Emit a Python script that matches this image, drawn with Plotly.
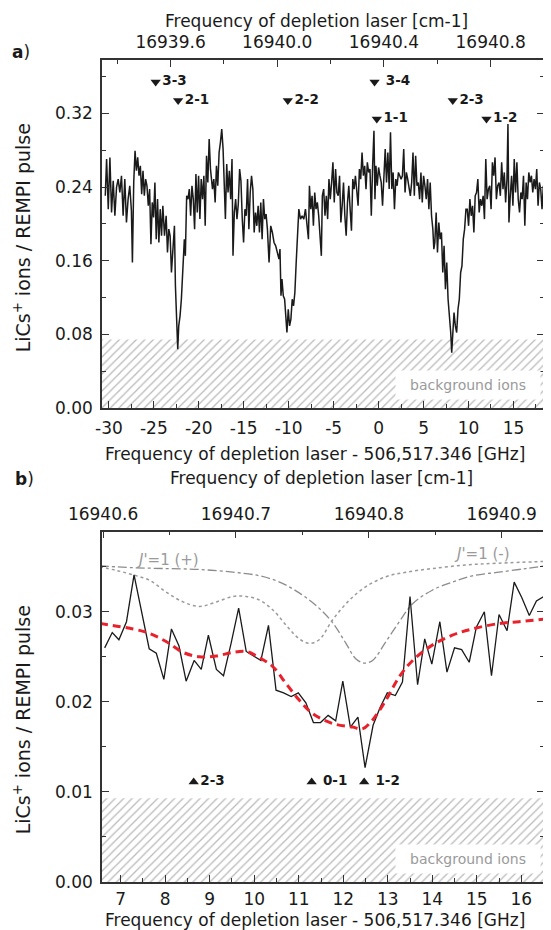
import plotly.graph_objects as go

FONT = "DejaVu Sans, Verdana, sans-serif"

# ---------------- panel a data ----------------
a_freq = [-30.405, -30.258, -30.074, -29.890, -29.706, -29.522, -29.338, -29.154, -28.970, -28.786,
          -28.602, -28.418, -28.234, -28.050, -27.866, -27.682, -27.498, -27.387, -27.240, -27.093,
          -26.945, -26.798, -26.651, -26.504, -26.356, -26.209, -26.062, -25.915, -25.768, -25.620,
          -25.473, -25.326, -25.179, -25.032, -24.884, -24.737, -24.590, -24.443, -24.295, -24.148,
          -24.001, -23.817, -23.633, -23.486, -23.339, -23.191, -23.044, -22.897, -22.713, -22.602,
          -22.455, -22.345, -22.234, -22.087, -21.940, -21.793, -21.609, -21.498, -21.351, -21.204,
          -21.057, -20.909, -20.762, -20.615, -20.468, -20.321, -20.173, -20.026, -19.879, -19.732,
          -19.585, -19.437, -19.290, -19.143, -18.996, -18.848, -18.701,
          -18.479, -18.332, -18.184, -18.037, -17.890, -17.743, -17.595, -17.448, -17.301, -17.154,
          -17.043, -16.896, -16.749, -16.602, -16.454, -16.307, -16.197, -16.050, -15.902, -15.755,
          -15.608, -15.461, -15.314, -15.166, -15.019, -14.872, -14.725, -14.577, -14.430, -14.283,
          -14.136, -13.988, -13.841, -13.694, -13.547, -13.400, -13.252, -13.105, -12.958, -12.811,
          -12.664, -12.516, -12.369, -12.185, -12.001, -11.817, -11.633, -11.449, -11.265, -11.081,
          -10.971, -10.860, -10.750, -10.603, -10.455, -10.308, -10.198, -10.050, -9.903, -9.756,
          -9.609, -9.462, -9.314, -9.167, -9.020, -8.873, -8.689, -8.505, -8.321, -8.137,
          -7.953, -7.805, -7.695, -7.548, -7.401, -7.253, -7.106, -6.959, -6.812, -6.664,
          -6.369, -6.258, -6.111, -5.964, -5.817, -5.669, -5.522, -5.375, -5.228, -5.080,
          -4.933, -4.786, -4.639, -4.492, -4.344, -4.197, -4.050, -3.903, -3.755, -3.608,
          -3.461, -3.314, -3.167, -3.019, -2.872, -2.725, -2.578, -2.430, -2.283, -2.136,
          -1.989, -1.842, -1.694, -1.547, -1.400, -1.253, -1.105, -0.958, -0.811, -0.664,
          -0.517, -0.406, -0.296, -0.149, -0.001, 0.146, 0.293, 0.440, 0.588, 0.735,
          0.882, 1.029, 1.177, 1.324, 1.471, 1.618, 1.765, 1.913, 2.060, 2.207,
          2.354, 2.502, 2.649, 2.796, 2.943, 3.090, 3.238, 3.385, 3.532, 3.679,
          3.827, 3.974, 4.121, 4.268, 4.415, 4.563, 4.710, 4.857, 5.004, 5.152,
          5.299, 5.446, 5.593, 5.740, 5.888, 6.035, 6.145,
          6.256, 6.403, 6.550, 6.698, 6.845, 6.992, 7.139, 7.286, 7.434, 7.581,
          7.728, 7.875, 8.023, 8.133, 8.243, 8.391, 8.538, 8.685, 8.832, 8.979,
          9.127, 9.274, 9.421, 9.568, 9.716, 9.863, 10.010, 10.157, 10.305, 10.452,
          10.599, 10.746, 10.893, 11.041, 11.188, 11.335, 11.482, 11.630, 11.777, 11.924,
          12.071, 12.219, 12.366, 12.513, 12.660, 12.807, 12.955, 13.102, 13.249, 13.396,
          13.544, 13.691, 13.838, 13.985, 14.132, 14.280, 14.390, 14.500, 14.648, 14.795,
          14.942, 15.089, 15.236, 15.384, 15.531, 15.678, 15.825, 15.973, 16.120, 16.267,
          16.414, 16.561, 16.709, 16.856, 17.003, 17.150, 17.298, 17.445, 17.592, 17.739,
          17.887, 18.034, 18.181, 18.328]

a_signal = [0.2305, 0.2704, 0.2160, 0.2722, 0.2124, 0.2468, 0.2088, 0.2396, 0.2486, 0.2341,
            0.2523, 0.2088, 0.2486, 0.2015, 0.2269, 0.2414, 0.2142, 0.1581, 0.2450, 0.2794,
            0.2577, 0.2722, 0.2523, 0.2631, 0.2323, 0.2577, 0.2305, 0.2486, 0.2414, 0.2197,
            0.2378, 0.1780, 0.2233, 0.2070, 0.2450, 0.1834, 0.2269, 0.1798, 0.2160, 0.1871,
            0.2197, 0.1871, 0.2088, 0.1689, 0.1943, 0.1871, 0.1472, 0.1762, 0.1979, 0.1327,
            0.0856, 0.0639, 0.0892, 0.1001, 0.1182, 0.1472, 0.1834, 0.1653, 0.2305, 0.2269,
            0.2378, 0.2088, 0.2414, 0.2269, 0.1943, 0.2541, 0.2124, 0.2523, 0.2052, 0.2486,
            0.2269, 0.2523, 0.1979, 0.2740, 0.2450, 0.2921, 0.2595,
            0.2378, 0.2486, 0.2233, 0.2631, 0.2414, 0.2776, 0.2885, 0.3030, 0.2813, 0.2305,
            0.2052, 0.2649, 0.2341, 0.2577, 0.2269, 0.2704, 0.1653, 0.2124, 0.2269, 0.2052,
            0.2215, 0.2595, 0.2468, 0.2052, 0.1798, 0.2160, 0.2088, 0.2486, 0.1943, 0.2341,
            0.2523, 0.2378, 0.1907, 0.2124, 0.1979, 0.2197, 0.1907, 0.2233, 0.1834, 0.2269,
            0.2052, 0.2106, 0.1943, 0.1581, 0.1979, 0.1907, 0.1798, 0.1762, 0.1689, 0.1617,
            0.1726, 0.1219, 0.1400, 0.1219, 0.1182, 0.1001, 0.0820, 0.1073, 0.0892, 0.0965,
            0.1182, 0.1110, 0.1255, 0.1581, 0.1834, 0.2160, 0.2052, 0.2088, 0.2052, 0.2160,
            0.1979, 0.1834, 0.2414, 0.2160, 0.2305, 0.1979, 0.2341, 0.2160, 0.2233, 0.2088,
            0.1653, 0.2305, 0.2378, 0.2088, 0.2305, 0.2052, 0.2486, 0.2269, 0.2450, 0.2668,
            0.2233, 0.2595, 0.2341, 0.2305, 0.2523, 0.2015, 0.2197, 0.2450, 0.2088, 0.1871,
            0.2233, 0.2414, 0.2160, 0.1925, 0.2486, 0.2378, 0.2523, 0.2341, 0.2197, 0.2595,
            0.2486, 0.2776, 0.2523, 0.2631, 0.2378, 0.2668, 0.2559, 0.2595, 0.2088, 0.2631,
            0.3012, 0.2269, 0.2631, 0.2414, 0.2613, 0.2523, 0.2450, 0.2197, 0.2559, 0.2813,
            0.2450, 0.2776, 0.2378, 0.2994, 0.2378, 0.2559, 0.2160, 0.2486, 0.2414, 0.2559,
            0.2523, 0.2486, 0.2523, 0.2813, 0.2341, 0.2559, 0.2486, 0.2414, 0.2305, 0.2450,
            0.2776, 0.2305, 0.2740, 0.2414, 0.2450, 0.2269, 0.2559, 0.2233, 0.2523, 0.2414,
            0.2269, 0.2486, 0.2160, 0.2450, 0.2088, 0.1943, 0.1726,
            0.1798, 0.2124, 0.1689, 0.2015, 0.1834, 0.1907, 0.1472, 0.1762, 0.1291, 0.1581,
            0.1182, 0.1037, 0.0820, 0.0602, 0.0820, 0.1037, 0.0892, 0.0820, 0.1073, 0.1182,
            0.1472, 0.1544, 0.1834, 0.1943, 0.2160, 0.2160, 0.1979, 0.2269, 0.2088, 0.2197,
            0.1907, 0.2305, 0.2341, 0.2486, 0.2124, 0.2269, 0.2197, 0.2305, 0.2052, 0.2704,
            0.2269, 0.2378, 0.2414, 0.2160, 0.2668, 0.2523, 0.2722, 0.2269, 0.2414, 0.2450,
            0.2305, 0.2668, 0.2378, 0.2559, 0.2233, 0.2486, 0.3084, 0.2015, 0.2305, 0.2523,
            0.2197, 0.2704, 0.2341, 0.2668, 0.2269, 0.2124, 0.2341, 0.2269, 0.2523, 0.1979,
            0.2450, 0.2269, 0.2559, 0.2450, 0.2523, 0.2341, 0.2486, 0.2378, 0.2595, 0.2197,
            0.2450, 0.2378, 0.2160, 0.2414]

a_lines = ["3-3", "2-1", "2-2", " 3-4", "1-1", "2-3", "1-2"]
a_lines_freq = [-24.8, -22.3, -10.1, -0.45, -0.2, 8.25, 12.0]
a_lines_level = [0.354, 0.334, 0.334, 0.354, 0.314, 0.334, 0.314]
a_background = 0.0745

a_ghz_ticks = [-30, -25, -20, -15, -10, -5, 0, 5, 10, 15]
a_ghz_labels = ["-30", "-25", "-20", "-15", "-10", "-5", "0", "5", "10", "15"]
a_cm_ticks = [16939.6, 16940.0, 16940.4, 16940.8]
a_cm_labels = ["16939.6", "16940.0", "16940.4", "16940.8"]
a_y_ticks = [0.0, 0.08, 0.16, 0.24, 0.32]

# ---------------- panel b data ----------------
b_freq = [6.64, 6.81, 6.96, 7.13, 7.30, 7.47, 7.64, 7.80, 7.97, 8.14,
          8.31, 8.47, 8.65, 8.81, 8.97, 9.15, 9.31, 9.48, 9.65, 9.82,
          9.98, 10.15, 10.32, 10.49, 10.66, 10.83, 10.99, 11.16, 11.33, 11.49,
          11.66, 11.83, 11.99, 12.16, 12.33, 12.49, 12.67, 12.83, 12.99, 13.17,
          13.33, 13.50, 13.67, 13.83, 13.99, 14.17, 14.33, 14.50, 14.66, 14.83,
          14.99, 15.17, 15.33, 15.50, 15.68, 15.84, 16.01, 16.18, 16.34, 16.51]
b_signal = [0.0260, 0.0277, 0.0269, 0.0289, 0.0341, 0.0298, 0.0259, 0.0254, 0.0225, 0.0281,
            0.0262, 0.0223, 0.0246, 0.0236, 0.0274, 0.0236, 0.0229, 0.0265, 0.0304, 0.0256,
            0.0251, 0.0246, 0.0285, 0.0213, 0.0210, 0.0206, 0.0210, 0.0199, 0.0177, 0.0177,
            0.0185, 0.0179, 0.0223, 0.0172, 0.0183, 0.0127, 0.0174, 0.0194, 0.0210, 0.0207,
            0.0222, 0.0317, 0.0219, 0.0270, 0.0242, 0.0289, 0.0233, 0.0260, 0.0258, 0.0244,
            0.0283, 0.0300, 0.0229, 0.0297, 0.0279, 0.0333, 0.0316, 0.0296, 0.0312, 0.0317]

fit_freq = [6.53, 7.28, 7.65, 8.02, 8.40, 8.77, 9.15, 9.52, 9.82, 10.12, 10.42, 10.72, 11.01,
            11.31, 11.76, 12.21, 12.43, 12.66, 12.96, 13.26, 13.56, 14.00, 14.45, 14.90, 15.50,
            15.95, 16.54]
fit_signal = [0.0287, 0.0281, 0.0276, 0.0267, 0.0255, 0.0250, 0.0251, 0.0255, 0.0256, 0.0249,
              0.0239, 0.0220, 0.0202, 0.0187, 0.0176, 0.0172, 0.0170, 0.0180, 0.0202, 0.0228,
              0.0246, 0.0263, 0.0274, 0.0281, 0.0287, 0.0289, 0.0292]

plus_freq = [6.53, 7.28, 8.02, 8.77, 9.52, 10.12, 10.57, 11.01, 11.39, 11.76, 12.06, 12.28, 12.47,
             12.66, 12.96, 13.26, 13.56, 14.00, 14.45, 14.90, 15.50, 16.10, 16.54]
plus_signal = [0.0351, 0.0349, 0.0348, 0.0347, 0.0344, 0.0340, 0.0333, 0.0321, 0.0307, 0.0288,
               0.0265, 0.0248, 0.0243, 0.0246, 0.0267, 0.0289, 0.0309, 0.0324, 0.0333, 0.0340,
               0.0344, 0.0348, 0.0351]

minus_freq = [6.53, 6.90, 7.28, 7.65, 8.02, 8.40, 8.77, 9.15, 9.52, 9.82, 10.12, 10.42, 10.72,
              11.01, 11.24, 11.46, 11.76, 12.14, 12.51, 12.96, 13.41, 14.00, 14.75, 15.50, 16.54]
minus_signal = [0.0350, 0.0346, 0.0341, 0.0335, 0.0322, 0.0311, 0.0306, 0.0311, 0.0317, 0.0317,
                0.0313, 0.0302, 0.0285, 0.0270, 0.0265, 0.0269, 0.0291, 0.0313, 0.0328, 0.0339,
                0.0344, 0.0348, 0.0352, 0.0354, 0.0356]

b_lines = ["2-3", " 0-1", " 1-2"]
b_lines_freq = [8.64, 11.29, 12.47]
b_lines_level = [0.0111, 0.0111, 0.0111]
b_background = 0.0093

b_ghz_ticks = [7, 8, 9, 10, 11, 12, 13, 14, 15, 16]
b_cm_ticks = [16940.6, 16940.7, 16940.8, 16940.9]
b_cm_labels = ["16940.6", "16940.7", "16940.8", "16940.9"]
b_y_ticks = [0.0, 0.01, 0.02, 0.03]

# ranges
a_xrange = [-30.77, 18.4]
a_cmrange = [16939.343, 16941.0]
a_yrange = [0, 0.378]
b_xrange = [6.58, 16.51]
b_cmrange = [16940.5992, 16940.9318]
b_yrange = [0, 0.0389]

AX = "#333333"
TXT = "#1a1a1a"
HATCH = dict(shape="/", fgcolor="#777777", bgcolor="white", size=6, solidity=0.22)

fig = go.Figure()

# ---- panel a ----
fig.add_trace(go.Scatter(x=a_xrange, y=[a_background, a_background], mode="lines",
                         line=dict(width=0), fill="tozeroy", fillpattern=HATCH,
                         fillcolor="rgba(0,0,0,0)", hoverinfo="skip", showlegend=False,
                         xaxis="x", yaxis="y"))
fig.add_trace(go.Scatter(x=a_freq, y=a_signal, mode="lines",
                         line=dict(color=TXT, width=1.5), showlegend=False,
                         xaxis="x", yaxis="y"))
fig.add_trace(go.Scatter(x=a_lines_freq, y=a_lines_level, mode="markers+text",
                         marker=dict(symbol="triangle-down", size=9, color=TXT),
                         text=["<b>%s</b>" % t for t in a_lines], textposition="middle right",
                         textfont=dict(family=FONT, size=13.5, color=TXT),
                         showlegend=False, cliponaxis=False, xaxis="x", yaxis="y"))
fig.add_trace(go.Scatter(x=[], y=[], xaxis="x3", yaxis="y", showlegend=False))

# ---- panel b ----
fig.add_trace(go.Scatter(x=b_xrange, y=[b_background, b_background], mode="lines",
                         line=dict(width=0), fill="tozeroy", fillpattern=HATCH,
                         fillcolor="rgba(0,0,0,0)", hoverinfo="skip", showlegend=False,
                         xaxis="x2", yaxis="y2"))
fig.add_trace(go.Scatter(x=plus_freq, y=plus_signal, mode="lines", line_shape="spline",
                         line=dict(color="#8c8c8c", width=1.3, dash="dashdot"),
                         showlegend=False, xaxis="x2", yaxis="y2"))
fig.add_trace(go.Scatter(x=minus_freq, y=minus_signal, mode="lines", line_shape="spline",
                         line=dict(color="#9a9a9a", width=1.5, dash="dot"),
                         showlegend=False, xaxis="x2", yaxis="y2"))
fig.add_trace(go.Scatter(x=b_freq, y=b_signal, mode="lines",
                         line=dict(color=TXT, width=1.3), showlegend=False,
                         xaxis="x2", yaxis="y2"))
fig.add_trace(go.Scatter(x=fit_freq, y=fit_signal, mode="lines", line_shape="spline",
                         line=dict(color="#e8212b", width=3, dash="8px,5px"),
                         showlegend=False, xaxis="x2", yaxis="y2"))
fig.add_trace(go.Scatter(x=b_lines_freq, y=b_lines_level, mode="markers+text",
                         marker=dict(symbol="triangle-up", size=9, color=TXT),
                         text=["<b>%s</b>" % t for t in b_lines], textposition="middle right",
                         textfont=dict(family=FONT, size=13.5, color=TXT),
                         showlegend=False, cliponaxis=False, xaxis="x2", yaxis="y2"))
fig.add_trace(go.Scatter(x=[], y=[], xaxis="x4", yaxis="y2", showlegend=False))

tickfont = dict(family=FONT, size=17, color=TXT)


def xax(rng, tv, tt, minor_dtick, minor_tick0, anchor, side="bottom", overlaying=None,
        standoff=4):
    d = dict(range=rng, tickmode="array", tickvals=tv, ticktext=tt, ticks="inside",
             ticklen=7, tickwidth=1.3, tickcolor=AX, showline=True, linecolor=AX,
             linewidth=1.5, showgrid=False, zeroline=False, tickfont=tickfont,
             anchor=anchor, side=side, mirror=False, ticklabelstandoff=standoff,
             minor=dict(ticks="inside", ticklen=4, tickcolor=AX, tickwidth=1.1,
                        tickmode="linear", dtick=minor_dtick, tick0=minor_tick0,
                        showgrid=False))
    if overlaying:
        d["overlaying"] = overlaying
    return d


def yax(rng, tv, minor_dtick, dom, anchor):
    return dict(range=rng, domain=dom, tickmode="array", tickvals=tv,
                ticktext=["%.2f" % v for v in tv], ticks="inside", ticklen=7,
                tickwidth=1.3, tickcolor=AX, showline=True, linecolor=AX, linewidth=1.5,
                mirror="ticks", showgrid=False, zeroline=False, tickfont=tickfont,
                anchor=anchor, ticklabelstandoff=4,
                minor=dict(ticks="inside", ticklen=4, tickcolor=AX, tickwidth=1.1,
                           tickmode="linear", dtick=minor_dtick, tick0=0, showgrid=False))


# the page body adds an 8 px offset, so the figure is 8 px smaller each way
fig.update_layout(
    width=543, height=922,
    margin=dict(l=94, r=5, t=52, b=48),
    paper_bgcolor="white", plot_bgcolor="white",
    font=dict(family=FONT, size=17, color=TXT),
    xaxis=xax(a_xrange, a_ghz_ticks, a_ghz_labels, 2.5, 0, "y"),
    xaxis3=xax(a_cmrange, a_cm_ticks, a_cm_labels, 0.2, 16939.6, "y", side="top",
               overlaying="x", standoff=3),
    yaxis=yax(a_yrange, a_y_ticks, 0.04, [0.5766, 1.0], "x"),
    xaxis2=xax(b_xrange, b_ghz_ticks, [str(v) for v in b_ghz_ticks], 0.5, 0, "y2", standoff=1),
    xaxis4=xax(b_cmrange, b_cm_ticks, b_cm_labels, 0.05, 16940.6, "y2", side="top",
               overlaying="x2", standoff=3),
    yaxis2=yax(b_yrange, b_y_ticks, 0.005, [0.0, 0.4262], "x2"),
)


def px_y(py):
    return (882 - py) / 822.0


def px_x(px):
    return (px - 102) / 444.0


ann = []
titles = [
    ("Frequency of depletion laser [cm-1]", 317, 21),
    ("Frequency of depletion laser - 506,517.346 [GHz]", 316, 454),
    ("Frequency of depletion laser [cm-1]", 322, 478),
    ("Frequency of depletion laser - 506,517.346 [GHz]", 316, 920),
]
for t, x, y in titles:
    ann.append(dict(text=t, xref="paper", yref="paper", x=px_x(x), y=px_y(y),
                    xanchor="center", yanchor="middle", showarrow=False,
                    font=dict(family=FONT, size=17, color=TXT)))
for y in (238, 720):
    ann.append(dict(text="LiCs<sup>+</sup> ions / REMPI pulse", xref="paper", yref="paper",
                    x=px_x(22), y=px_y(y), xanchor="center", yanchor="middle",
                    textangle=-90, showarrow=False,
                    font=dict(family=FONT, size=19, color=TXT)))
for t, x, y in (("<b>a</b>)", 21, 52), ("<b>b</b>)", 24, 479)):
    ann.append(dict(text=t, xref="paper", yref="paper", x=px_x(x), y=px_y(y),
                    xanchor="center", yanchor="middle", showarrow=False,
                    font=dict(family=FONT, size=17, color=TXT)))
for yr in ("y domain", "y2 domain"):
    xr = "x domain" if yr == "y domain" else "x2 domain"
    ann.append(dict(text="background ions", xref=xr, yref=yr, x=0.993, y=0.067,
                    xanchor="right", yanchor="middle", showarrow=False,
                    bgcolor="white", width=142, height=26, borderpad=1,
                    font=dict(family=FONT, size=14, color="#9a9a9a")))
ann.append(dict(text="<i>J'</i>=1 (+)", xref="x2", yref="y2", x=8.06, y=0.0358,
                showarrow=False, font=dict(family=FONT, size=15, color="#9a9a9a")))
ann.append(dict(text="<i>J'</i>=1 (-)", xref="x2", yref="y2", x=15.11, y=0.0364,
                showarrow=False, font=dict(family=FONT, size=15, color="#9a9a9a")))

fig.update_layout(annotations=ann)
fig.write_html("out.html")
